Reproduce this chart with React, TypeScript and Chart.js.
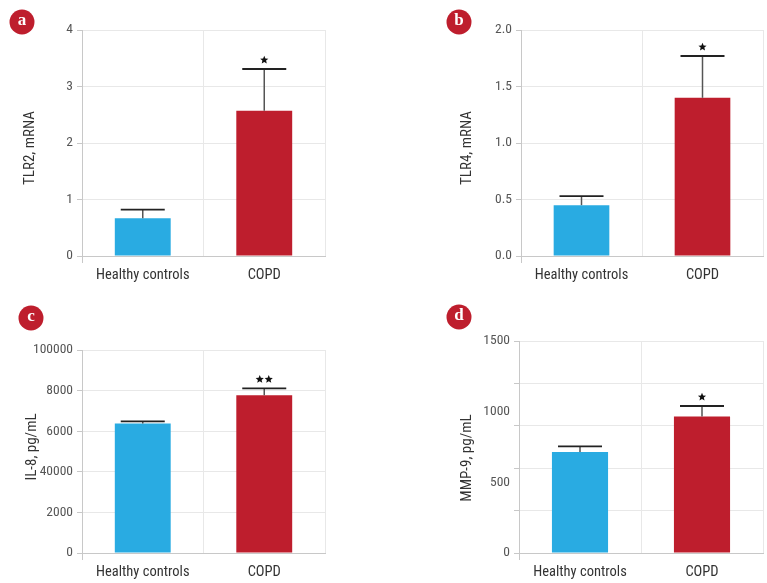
import React, { useEffect, useRef } from "react";
import { Chart, registerables } from "chart.js";

Chart.register(...registerables);

// ---------- DATA ----------
const categories = ["Healthy controls", "COPD"];

const tlr2Means = [0.67, 2.57];
const tlr2Errors = [0.15, 0.74];
const tlr2Stars = [0, 1];
const tlr2Ticks = ["0", "1", "2", "3", "4"];

const tlr4Means = [0.45, 1.4];
const tlr4Errors = [0.08, 0.37];
const tlr4Stars = [0, 1];
const tlr4Ticks = ["0.0", "0.5", "1.0", "1.5", "2.0"];

const il8Means = [6380, 7770];
const il8Errors = [100, 340];
const il8Stars = [0, 2];
const il8Ticks = ["0", "2000", "40000", "6000", "8000", "100000"];

const mmp9Means = [715, 965];
const mmp9Errors = [40, 75];
const mmp9Stars = [0, 1];
const mmp9Ticks = ["0", "500", "1000", "1500"];

const barColors = ["#29abe2", "#be1e2d"];
const badgeColor = "#be1e2d";

// pick an installed condensed family
function pickFamily(): string {
  const candidates = ["Roboto Condensed", "Liberation Sans Narrow", "Open Sans Condensed", "DejaVu Sans Condensed"];
  try {
    const c = document.createElement("canvas").getContext("2d")!;
    const sample = "Healthy controls 0123456789";
    c.font = "40px monospace";
    const base = c.measureText(sample).width;
    for (const f of candidates) {
      c.font = `40px "${f}", monospace`;
      if (Math.abs(c.measureText(sample).width - base) > 0.5) return `"${f}"`;
    }
  } catch (e) {}
  return '"DejaVu Sans Condensed"';
}
const FONT = pickFamily() + ", sans-serif";
const X_SIZE = 14.5;
const Y_SIZE = 13.5;
const T_SIZE = 15;

type PanelCfg = {
  letter: string;
  title: string;
  means: number[];
  errors: number[];
  stars: number[];
  max: number;
  step: number;
  labelFor: (v: number, i: number) => string;
  gridFor: (v: number) => boolean;
  canvas: { left: number; top: number; w: number; h: number };
  area: { l: number; t: number; r: number; b: number };
  badge: { x: number; y: number };
  titleX: number;
  titleY: number;
};

const panels: PanelCfg[] = [
  {
    letter: "a",
    title: "TLR2, mRNA",
    means: tlr2Means,
    errors: tlr2Errors,
    stars: tlr2Stars,
    max: 4,
    step: 1,
    labelFor: (v, i) => tlr2Ticks[i] ?? "",
    gridFor: () => true,
    canvas: { left: 0, top: 0, w: 383, h: 290 },
    area: { l: 82, t: 30, r: 325, b: 256 },
    badge: { x: 22, y: 22 },
    titleX: 30,
    titleY: 148,
  },
  {
    letter: "b",
    title: "TLR4, mRNA",
    means: tlr4Means,
    errors: tlr4Errors,
    stars: tlr4Stars,
    max: 2,
    step: 0.5,
    labelFor: (v, i) => tlr4Ticks[i] ?? "",
    gridFor: () => true,
    canvas: { left: 383, top: 0, w: 384, h: 290 },
    area: { l: 521, t: 30, r: 763, b: 256 },
    badge: { x: 459, y: 22 },
    titleX: 467,
    titleY: 148,
  },
  {
    letter: "c",
    title: "IL-8, pg/mL",
    means: il8Means,
    errors: il8Errors,
    stars: il8Stars,
    max: 10000,
    step: 2000,
    labelFor: (v, i) => il8Ticks[i] ?? "",
    gridFor: () => true,
    canvas: { left: 0, top: 290, w: 383, h: 293 },
    area: { l: 82, t: 350, r: 325, b: 553 },
    badge: { x: 31, y: 318 },
    titleX: 32,
    titleY: 447,
  },
  {
    letter: "d",
    title: "MMP-9, pg/mL",
    means: mmp9Means,
    errors: mmp9Errors,
    stars: mmp9Stars,
    max: 1500,
    step: 100,
    labelFor: (v) => (v % 500 === 0 ? mmp9Ticks[v / 500] ?? "" : ""),
    gridFor: (v) => v % 300 === 0,
    canvas: { left: 383, top: 290, w: 384, h: 293 },
    area: { l: 519, t: 341, r: 763, b: 553 },
    badge: { x: 459, y: 317 },
    titleX: 467,
    titleY: 458,
  },
];

function drawStar(ctx: CanvasRenderingContext2D, cx: number, cy: number, R: number) {
  const r = R * 0.45;
  ctx.beginPath();
  for (let k = 0; k < 10; k++) {
    const ang = -Math.PI / 2 + (k * Math.PI) / 5;
    const rad = k % 2 === 0 ? R : r;
    const px = cx + rad * Math.cos(ang);
    const py = cy + rad * Math.sin(ang);
    if (k === 0) ctx.moveTo(px, py);
    else ctx.lineTo(px, py);
  }
  ctx.closePath();
  ctx.fill();
}

function makePlugin(cfg: PanelCfg) {
  const ox = cfg.canvas.left;
  const oy = cfg.canvas.top;
  return {
    id: "decor" + cfg.letter,
    afterDatasetsDraw(chart: any) {
      const ctx: CanvasRenderingContext2D = chart.ctx;
      const meta = chart.getDatasetMeta(0);
      const ys = chart.scales.y;
      ctx.save();
      cfg.means.forEach((m, i) => {
        const bar = meta.data[i];
        if (!bar) return;
        const x = bar.x;
        const top = bar.y;
        const ye = ys.getPixelForValue(m + cfg.errors[i]);
        ctx.strokeStyle = "#555";
        ctx.lineWidth = 1.5;
        ctx.beginPath();
        ctx.moveTo(x, top);
        ctx.lineTo(x, ye);
        ctx.stroke();
        ctx.strokeStyle = "#222";
        ctx.lineWidth = 1.8;
        ctx.beginPath();
        ctx.moveTo(x - 22, ye);
        ctx.lineTo(x + 22, ye);
        ctx.stroke();
        const n = cfg.stars[i];
        ctx.fillStyle = "#111";
        for (let s = 0; s < n; s++) {
          const sx = x + (s - (n - 1) / 2) * 9;
          drawStar(ctx, sx, ye - 9, 4.3);
        }
      });
      ctx.restore();
    },
    afterDraw(chart: any) {
      const ctx: CanvasRenderingContext2D = chart.ctx;
      ctx.save();
      // badge
      ctx.fillStyle = badgeColor;
      ctx.beginPath();
      ctx.arc(cfg.badge.x - ox, cfg.badge.y - oy, 12.5, 0, Math.PI * 2);
      ctx.fill();
      ctx.fillStyle = "#fff";
      ctx.font = 'bold 17px "Liberation Serif", "DejaVu Serif", serif';
      ctx.textAlign = "center";
      ctx.textBaseline = "middle";
      ctx.fillText(cfg.letter, cfg.badge.x - ox, cfg.badge.y - oy - 1);
      // y title
      ctx.translate(cfg.titleX - ox, cfg.titleY - oy);
      ctx.rotate(-Math.PI / 2);
      ctx.fillStyle = "#333";
      ctx.font = `${T_SIZE}px ${FONT}`;
      ctx.textAlign = "center";
      ctx.textBaseline = "middle";
      ctx.fillText(cfg.title, 0, 0);
      ctx.restore();
    },
  };
}

function Panel({ cfg }: { cfg: PanelCfg }) {
  const ref = useRef<HTMLCanvasElement | null>(null);
  useEffect(() => {
    if (!ref.current) return;
    const c = cfg.canvas;
    const yW = cfg.area.l - c.left;
    const xH = 28;
    const padT = cfg.area.t - c.top;
    const padR = c.left + c.w - cfg.area.r;
    const padB = c.top + c.h - cfg.area.b - xH;
    const chart = new Chart(ref.current, {
      type: "bar",
      data: {
        labels: categories,
        datasets: [
          {
            data: cfg.means,
            backgroundColor: barColors,
            borderWidth: 0,
            categoryPercentage: 1,
            barPercentage: 0.46,
          },
        ],
      },
      options: {
        responsive: false,
        animation: false,
        devicePixelRatio: 1,
        layout: { padding: { top: padT, right: padR, bottom: padB, left: 0 } },
        plugins: { legend: { display: false }, tooltip: { enabled: false } },
        scales: {
          x: {
            afterFit: (s: any) => {
              s.height = xH;
            },
            border: { color: "#c8c8c8", width: 1 },
            grid: {
              color: "#e8e8e8",
              tickLength: 7,
              tickColor: (ctx: any) => (ctx.index === 0 ? "#c8c8c8" : "transparent"),
            },
            ticks: {
              color: "#333",
              font: { family: FONT, size: X_SIZE },
              padding: 4,
            },
          },
          y: {
            min: 0,
            max: cfg.max,
            afterFit: (s: any) => {
              s.width = yW;
            },
            border: { color: "#c8c8c8", width: 1 },
            grid: {
              color: (ctx: any) => (cfg.gridFor(ctx.tick?.value ?? 0) ? "#e8e8e8" : "transparent"),
              tickColor: (ctx: any) => (cfg.gridFor(ctx.tick?.value ?? 0) ? "#c8c8c8" : "transparent"),
              tickLength: 5,
            },
            ticks: {
              stepSize: cfg.step,
              autoSkip: false,
              color: "#555",
              padding: 4,
              font: { family: FONT, size: Y_SIZE },
              callback: (v: any, i: number) => cfg.labelFor(Number(v), i),
            },
          },
        },
      },
      plugins: [makePlugin(cfg)],
    });
    return () => chart.destroy();
  }, [cfg]);
  return (
    <canvas
      ref={ref}
      width={cfg.canvas.w}
      height={cfg.canvas.h}
      style={{
        position: "absolute",
        left: cfg.canvas.left,
        top: cfg.canvas.top,
        width: cfg.canvas.w,
        height: cfg.canvas.h,
      }}
    />
  );
}

export default function App() {
  return (
    <div
      style={{
        position: "fixed",
        left: 0,
        top: 0,
        width: 767,
        height: 583,
        background: "#fff",
        overflow: "hidden",
      }}
    >
      {panels.map((p) => (
        <Panel key={p.letter} cfg={p} />
      ))}
    </div>
  );
}
